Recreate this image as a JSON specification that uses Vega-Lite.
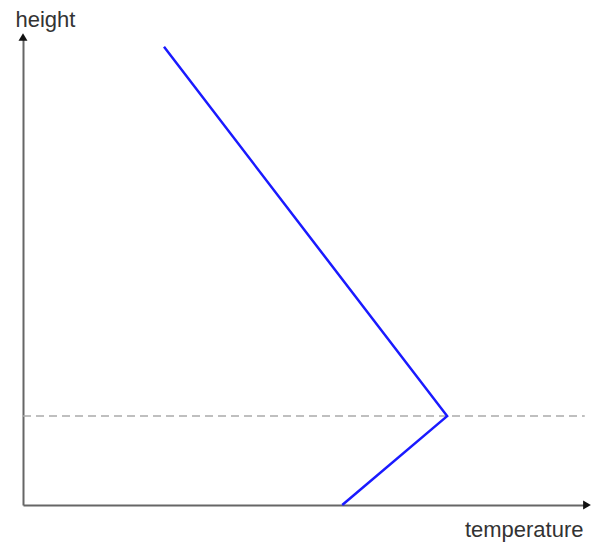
{
  "$schema": "https://vega.github.io/schema/vega-lite/v6.json",
  "autosize": "none",
  "width": 564,
  "height": 468,
  "padding": {"left": 23, "top": 37, "right": 14, "bottom": 39},
  "background": "white",
  "config": {"view": {"stroke": null}},
  "datasets": {
    "profile": [
      {"temperature": 56.6, "height": 0, "order": 1},
      {"temperature": 75.2, "height": 19.0, "order": 2},
      {"temperature": 25.0, "height": 97.9, "order": 3}
    ],
    "inversion": [
      {"temperature": 0, "height": 19.0},
      {"temperature": 99.6, "height": 19.0}
    ],
    "arrows": [
      {"temperature": 100, "height": 0, "shape": "triangle-right"},
      {"temperature": 0, "height": 100, "shape": "triangle-up"}
    ]
  },
  "layer": [
    {
      "data": {"name": "inversion"},
      "mark": {"type": "line", "color": "#aaaaaa", "strokeWidth": 1.5, "strokeDash": [8, 5]},
      "encoding": {
        "x": {"field": "temperature", "type": "quantitative", "scale": {"domain": [0, 100]},
              "axis": {"title": "temperature", "ticks": false, "labels": false, "grid": false,
                       "domainColor": "#666666", "domainWidth": 2,
                       "titleFont": "Liberation Sans", "titleFontSize": 22, "titleFontWeight": "normal", "titleColor": "#333333",
                       "titleAnchor": null, "titleAlign": "right", "titleX": 560, "titleY": 31, "titleBaseline": "alphabetic"}},
        "y": {"field": "height", "type": "quantitative", "scale": {"domain": [0, 100]},
              "axis": {"title": "height", "ticks": false, "labels": false, "grid": false,
                       "domainColor": "#666666", "domainWidth": 2,
                       "titleFont": "Liberation Sans", "titleFontSize": 22, "titleFontWeight": "normal", "titleColor": "#333333",
                       "titleAngle": 0, "titleAnchor": null, "titleAlign": "left", "titleX": -8, "titleY": -11, "titleBaseline": "alphabetic"}}
      }
    },
    {
      "data": {"name": "profile"},
      "mark": {"type": "line", "color": "#1a1aff", "strokeWidth": 2.5},
      "encoding": {
        "x": {"field": "temperature", "type": "quantitative"},
        "y": {"field": "height", "type": "quantitative"},
        "order": {"field": "order", "type": "quantitative"}
      }
    },
    {
      "data": {"name": "arrows"},
      "mark": {"type": "point", "filled": true, "color": "#111111", "size": 80, "opacity": 1},
      "encoding": {
        "x": {"field": "temperature", "type": "quantitative"},
        "y": {"field": "height", "type": "quantitative"},
        "shape": {"field": "shape", "type": "nominal", "scale": null, "legend": null}
      }
    }
  ]
}
